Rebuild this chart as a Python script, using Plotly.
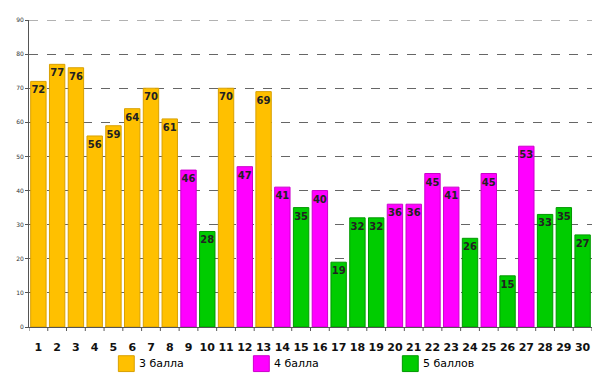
import plotly.graph_objects as go

cats = list(range(1, 31))
grade3_x = [1, 2, 3, 4, 5, 6, 7, 8, 11, 13]
grade3_y = [72, 77, 76, 56, 59, 64, 70, 61, 70, 69]
grade4_x = [9, 12, 14, 16, 20, 21, 22, 23, 25, 27]
grade4_y = [46, 47, 41, 40, 36, 36, 45, 41, 45, 53]
grade5_x = [10, 15, 17, 18, 19, 24, 26, 28, 29, 30]
grade5_y = [28, 35, 19, 32, 32, 26, 15, 33, 35, 27]
names = ["3 балла", "4 балла", "5 баллов"]
colors = ["#FFC000", "#FF00FF", "#00CC00"]
edges = ["#D9A000", "#CC00CC", "#009900"]
y_ticks = list(range(0, 100, 10))

# figure is drawn inside the page body (8px default margin)
W, H = 592, 381
ML, MT, PW, PH = 17, 9, 567, 310

fig = go.Figure()
for xs, ys, nm, c, e in zip([grade3_x, grade4_x, grade5_x],
                            [grade3_y, grade4_y, grade5_y], names, colors, edges):
    fig.add_trace(go.Bar(
        x=xs, y=ys, name=nm, width=0.82, showlegend=False,
        marker=dict(color=c, line=dict(color=e, width=1)),
        text=[str(v) for v in ys], textposition="inside", insidetextanchor="end",
        textangle=0, constraintext="none",
        textfont=dict(family="Verdana, DejaVu Sans", size=10, color="#222222", weight="bold"),
    ))

# legend drawn below the plot area
def px2paper_x(px):
    return (px - ML) / PW

def px2paper_y(py):
    return (MT + PH - py) / PH

legend_x = [107, 243, 393]  # left edge of each swatch (figure px)
sw_top, sw_size = 348, 16
for lx, nm, c, e in zip(legend_x, names, colors, edges):
    fig.add_shape(type="rect", xref="paper", yref="paper",
                  x0=px2paper_x(lx), x1=px2paper_x(lx + sw_size),
                  y0=px2paper_y(sw_top + sw_size), y1=px2paper_y(sw_top),
                  fillcolor=c, line=dict(color=e, width=1))
    fig.add_annotation(xref="paper", yref="paper", x=px2paper_x(lx + sw_size + 3),
                       y=px2paper_y(sw_top + sw_size / 2), text=nm, showarrow=False,
                       xanchor="left", yanchor="middle",
                       font=dict(family="Tahoma, DejaVu Sans", size=11, color="#000000"))

fig.update_layout(
    width=W, height=H,
    barmode="overlay",
    plot_bgcolor="white", paper_bgcolor="white",
    margin=dict(l=ML, r=W - ML - PW, t=MT, b=H - MT - PH),
    font=dict(family="Verdana, DejaVu Sans", color="#000000"),
    showlegend=False,
)
fig.update_xaxes(
    range=[0.5, 30.5], tickmode="array", tickvals=cats, ticktext=[str(c) for c in cats],
    tickfont=dict(size=11, family="Verdana, DejaVu Sans", weight="bold", color="#111111"),
    showgrid=False, showline=True, linecolor="#555555", linewidth=1,
    ticks="", zeroline=False, ticklabelstandoff=10,
)
# tick marks between categories
for i in range(31):
    fig.add_shape(type="line", xref="x", yref="paper", x0=0.5 + i, x1=0.5 + i,
                  y0=0, y1=-0.013, line=dict(color="#555555", width=1))
# top gridline at the range edge
fig.add_shape(type="line", xref="paper", yref="y", x0=0, x1=1, y0=y_ticks[-1], y1=y_ticks[-1],
              line=dict(color="#666666", width=1, dash="dash"), layer="below")
fig.update_yaxes(
    range=[0, 90], tickvals=y_ticks, ticktext=[str(v) for v in y_ticks],
    tickfont=dict(size=6, color="#333333"),
    showgrid=True, gridcolor="#666666", griddash="dash", gridwidth=1,
    showline=True, linecolor="#555555", linewidth=1, zeroline=False,
    ticks="outside", ticklen=3, tickcolor="#555555",
)

fig.write_html("out.html")
